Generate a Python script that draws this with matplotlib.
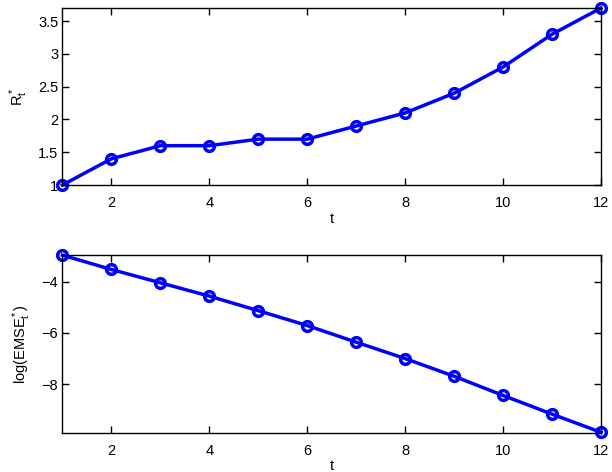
import numpy as np
import matplotlib
matplotlib.use('Agg')
import matplotlib.pyplot as plt

#=======================================================
# Data
#=======================================================

t = [1, 2, 3, 4, 5, 6, 7, 8, 9, 10, 11, 12]

R_star = [1.0, 1.4, 1.6, 1.6, 1.7, 1.7, 1.9, 2.1, 2.4, 2.8, 3.3, 3.7]

log_emse = [-2.96, -3.52, -4.04, -4.56, -5.13, -5.71,
            -6.36, -7.0, -7.69, -8.44, -9.17, -9.88]

x_ticks = [2, 4, 6, 8, 10, 12]
top_yticks = [1, 1.5, 2, 2.5, 3, 3.5]
bot_yticks = [-4, -6, -8]

#=======================================================
# Plot
#=======================================================

plt.rcParams['font.family'] = ['Liberation Sans', 'DejaVu Sans']
plt.rcParams['mathtext.fontset'] = 'custom'
plt.rcParams['mathtext.rm'] = 'Liberation Sans'
plt.rcParams['mathtext.it'] = 'Liberation Sans'
plt.rcParams['mathtext.default'] = 'regular'

fig = plt.figure(figsize=(6.12, 4.72), dpi=100)
ax1 = fig.add_axes([0.102, 0.608, 0.880, 0.375])
ax2 = fig.add_axes([0.102, 0.083, 0.880, 0.377])

style = dict(color='#0000ff', linewidth=2.5, marker='o', markersize=7,
             markerfacecolor='none', markeredgewidth=2.5, clip_on=False)

ax1.plot(t, R_star, **style)
ax1.set_xlim(1, 12)
ax1.set_ylim(1, 3.7)
ax1.set_yticks(top_yticks)
ax1.set_yticklabels(['1', '1.5', '2', '2.5', '3', '3.5'])
ax1.set_ylabel(r'$R^*_t$', fontsize=10.5, labelpad=6)

ax2.plot(t, log_emse, **style)
ax2.set_xlim(1, 12)
ax2.set_ylim(-9.9, -2.95)
ax2.set_yticks(bot_yticks)
ax2.set_yticklabels(['\u22124', '\u22126', '\u22128'])
ax2.set_ylabel(r'log(EMSE$^*_t$)', fontsize=10.5, labelpad=6)

for ax in (ax1, ax2):
    ax.set_xticks(x_ticks)
    ax.set_xlabel('t', fontsize=10.5, labelpad=1)
    ax.tick_params(direction='in', top=True, right=True, length=5,
                   width=1, labelsize=10.5)
    ax.tick_params(axis='x', pad=8)
    ax.tick_params(axis='y', pad=3)
    for s in ax.spines.values():
        s.set_linewidth(1)

plt.savefig('out.png', dpi=100)
